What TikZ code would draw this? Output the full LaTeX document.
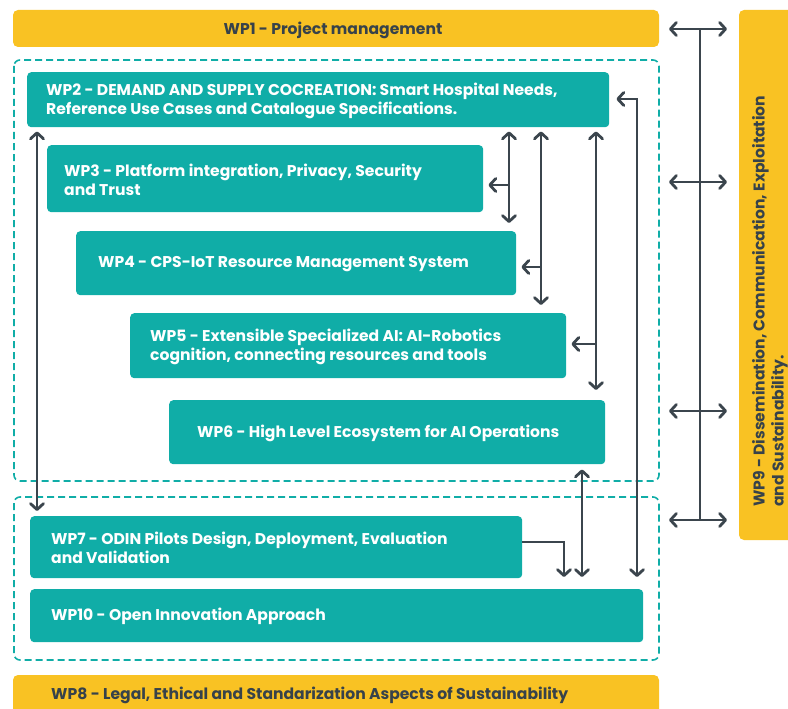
\documentclass[tikz,border=0pt]{standalone}
\usepackage{fontspec}
\setmainfont{Poppins}
\usetikzlibrary{arrows.meta,calc}
\definecolor{wpteal}{RGB}{16,173,167}
\definecolor{wpyellow}{RGB}{249,194,35}
\definecolor{wpdark}{RGB}{59,69,77}
\definecolor{wptext}{RGB}{55,66,74}
\tikzset{
  wpbox/.style={fill=wpteal, rounded corners=4pt, draw=none, anchor=north west, inner sep=0pt},
  ybar/.style={fill=wpyellow, rounded corners=5pt, draw=none},
  wlbl/.style={text=white, font=\bfseries\fontsize{15.6}{19}\selectfont, align=left, anchor=west, inner sep=0pt},
  ylbl/.style={text=wptext, font=\bfseries\fontsize{15.6}{19}\selectfont, align=left, inner sep=0pt},
  grp/.style={draw=wpteal, line width=1.6pt, dash pattern=on 7pt off 4pt, rounded corners=6pt},
  conn/.style={draw=wpdark, line width=2.8pt},
  tipb/.tip={Straight Barb[length=6pt,width=13pt,line cap=round,line join=round]},
  both/.style={conn, tipb-tipb},
  one/.style={conn, -tipb},
}
\begin{document}
\begin{tikzpicture}[x=1pt,y=-1pt]
\useasboundingbox (0,0) rectangle (788,709);
\clip (0,0) rectangle (788,709);
% yellow bars
\path[ybar] (13,10) rectangle (659,47);
\node[ylbl] (wp1) at (333,30) {WP1 - Project management};
\path[ybar] (739,10) rectangle (800,540);
\node[ylbl, rotate=90, anchor=west] (wp9) at (770,507) {WP9 - Dissemination, Communication, Exploitation\\and Sustainability.};
\path[ybar] (13,675) rectangle (659,720);
\node[ylbl, anchor=west] (wp8) at (51,695) {WP8 - Legal, Ethical and Standarization Aspects of Sustainability};
% dashed groups
\draw[grp] (14,60) rectangle (659,481);
\draw[grp] (14,497) rectangle (659,660);
% WP boxes
\node[wpbox, minimum width=582pt, minimum height=55pt] (wp2) at (27,72) {};
\node[wlbl] (t2) at ($(wp2.west)+(19,1)$) {WP2 - DEMAND AND SUPPLY COCREATION: Smart Hospital Needs,\\Reference Use Cases and Catalogue Specifications.};
\node[wpbox, minimum width=436pt, minimum height=67pt] (wp3) at (47,145) {};
\node[wlbl] (t3) at ($(wp3.west)+(17,1)$) {WP3 - Platform integration, Privacy, Security\\and Trust};
\node[wpbox, minimum width=440pt, minimum height=64pt] (wp4) at (76,231) {};
\node[wlbl] (t4) at ($(wp4.west)+(22,1)$) {WP4 - CPS-IoT Resource Management System};
\node[wpbox, minimum width=436pt, minimum height=65pt] (wp5) at (130,313) {};
\node[wlbl] (t5) at ($(wp5.west)+(20,1)$) {WP5 - Extensible Specialized AI: AI-Robotics\\cognition, connecting resources and tools};
\node[wpbox, minimum width=436pt, minimum height=64pt] (wp6) at (169,400) {};
\node[wlbl] (t6) at ($(wp6.west)+(28,1)$) {WP6 - High Level Ecosystem for AI Operations};
\node[wpbox, minimum width=492pt, minimum height=62pt] (wp7) at (30,516) {};
\node[wlbl] (t7) at ($(wp7.west)+(21,1)$) {WP7 - ODIN Pilots Design, Deployment, Evaluation\\and Validation};
\node[wpbox, minimum width=613pt, minimum height=53pt] (wp10) at (30,589) {};
\node[wlbl] (t10) at ($(wp10.west)+(21,1)$) {WP10 - Open Innovation Approach};
% WP9 connector bus
\coordinate (bt) at (700,29);
\coordinate (bb) at (700,520);
\draw[conn] (bt) -- (bb);
\coordinate (h1l) at (669,29);   \coordinate (h1r) at (727,29);
\coordinate (h2l) at (669,182);  \coordinate (h2r) at (727,182);
\coordinate (h3l) at (669,411);  \coordinate (h3r) at (727,411);
\coordinate (h4l) at (669,520);  \coordinate (h4r) at (727,520);
\draw[both] (h1l) -- (h1r);
\draw[both] (h2l) -- (h2r);
\draw[both] (h3l) -- (h3r);
\draw[both] (h4l) -- (h4r);
% left long arrow WP2 <-> WP7
\coordinate (l7) at (37,511);
\draw[both, shorten <=4pt] (wp2.south -| l7) -- (l7);
% WP3 feed
\coordinate (e3) at (509,223);
\coordinate (b3) at (509,185);
\draw[both, shorten <=4pt] (wp2.south -| e3) -- (e3);
\draw[one, shorten >=5pt] (b3) -- (b3 -| wp3.east);
% WP4 feed
\coordinate (e4) at (541,305);
\coordinate (b4) at (541,267);
\draw[both, shorten <=4pt] (wp2.south -| e4) -- (e4);
\draw[one, shorten >=5pt] (b4) -- (b4 -| wp4.east);
% WP5 feed
\coordinate (e5) at (596,390);
\coordinate (b5) at (596,344);
\draw[both, shorten <=4pt] (wp2.south -| e5) -- (e5);
\draw[one, shorten >=5pt] (b5) -- (b5 -| wp5.east);
% WP6 <-> WP10
\coordinate (e6) at (582,577);
\draw[both, shorten <=5pt] (wp6.south -| e6) -- (e6);
% WP7 -> WP10
\coordinate (k7) at (564,542);
\coordinate (e7) at (564,577);
\draw[one] (wp7.east |- k7) -- (k7) -- (e7);
% WP10 <-> WP2 (right loop)
\coordinate (r2) at (637,99);
\coordinate (e10) at (637,577);
\draw[both, shorten <=7pt] (r2 -| wp2.east) -- (r2) -- (e10);
\end{tikzpicture}
\end{document}
